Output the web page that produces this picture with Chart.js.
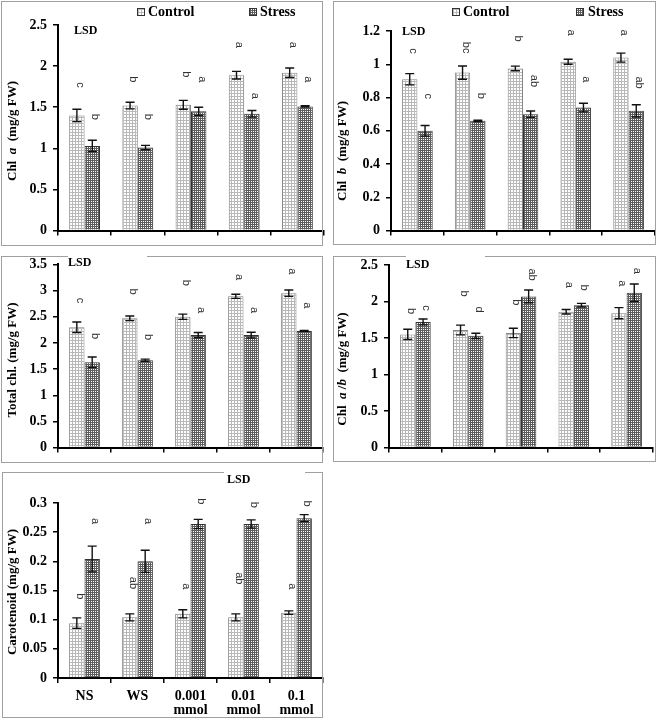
<!DOCTYPE html>
<html><head><meta charset="utf-8">
<script src="https://cdn.jsdelivr.net/npm/chart.js@4/dist/chart.umd.min.js"></script>
<style>
html,body{margin:0;padding:0;background:#fff;}
body{width:658px;height:722px;position:relative;overflow:hidden;}
canvas{position:absolute;}
.ln{position:absolute;background:#a0a0a0;}
</style></head><body>
<canvas id="c1"></canvas><canvas id="c2"></canvas><canvas id="c3"></canvas><canvas id="c4"></canvas><canvas id="c5"></canvas>
<script>
// ---------- DATA ----------
const categories = ['NS', 'WS', ['0.001', 'mmol'], ['0.01', 'mmol'], ['0.1', 'mmol']];
const seriesNames = ['Control', 'Stress'];

const chlaControl = [1.40, 1.52, 1.53, 1.89, 1.92];
const chlaControlErr = [0.075, 0.04, 0.054, 0.046, 0.058];
const chlaStress = [1.03, 1.01, 1.45, 1.42, 1.51];
const chlaStressErr = [0.068, 0.026, 0.05, 0.04, 0.008];
const chlaControlLetters = ['c', 'b', 'b', 'a', 'a'];
const chlaControlLetterAt = [1.77, 1.84, 1.90, 2.26, 2.26];
const chlaStressLetters = ['b', 'b', 'a', 'a', 'a'];
const chlaStressLetterAt = [1.385, 1.385, 1.84, 1.64, 1.84];
const chlaTicks = [0, 0.5, 1, 1.5, 2, 2.5];

const chlbControl = [0.91, 0.95, 0.975, 1.015, 1.04];
const chlbControlErr = [0.034, 0.04, 0.014, 0.015, 0.027];
const chlbStress = [0.60, 0.66, 0.70, 0.74, 0.72];
const chlbStressErr = [0.032, 0.004, 0.019, 0.026, 0.037];
const chlbControlLetters = ['c', 'bc', 'b', 'a', 'a'];
const chlbControlLetterAt = [1.08, 1.10, 1.155, 1.19, 1.19];
const chlbStressLetters = ['c', 'b', 'ab', 'a', 'ab'];
const chlbStressLetterAt = [0.807, 0.81, 0.90, 0.91, 0.89];
const chlbTicks = [0, 0.2, 0.4, 0.6, 0.8, 1, 1.2];

const totalControl = [2.30, 2.47, 2.50, 2.89, 2.95];
const totalControlErr = [0.1, 0.045, 0.05, 0.04, 0.06];
const totalStress = [1.63, 1.67, 2.15, 2.15, 2.23];
const totalStressErr = [0.1, 0.02, 0.05, 0.055, 0.01];
const totalControlLetters = ['c', 'b', 'b', 'a', 'a'];
const totalControlLetterAt = [2.81, 2.98, 3.15, 3.26, 3.37];
const totalStressLetters = ['b', 'b', 'a', 'a', 'a'];
const totalStressLetterAt = [2.13, 2.11, 2.63, 2.63, 2.72];
const totalTicks = [0, 0.5, 1, 1.5, 2, 2.5, 3, 3.5];

const ratioControl = [1.55, 1.61, 1.57, 1.86, 1.84];
const ratioControlErr = [0.07, 0.067, 0.065, 0.03, 0.076];
const ratioStress = [1.72, 1.53, 2.07, 1.95, 2.12];
const ratioStressErr = [0.04, 0.036, 0.087, 0.025, 0.12];
const ratioControlLetters = ['b', 'b', 'b', 'a', 'a'];
const ratioControlLetterAt = [1.87, 2.11, 1.99, 2.23, 2.25];
const ratioStressLetters = ['c', 'd', 'ab', 'b', 'a'];
const ratioStressLetterAt = [1.91, 1.89, 2.37, 2.19, 2.42];
const ratioTicks = [0, 0.5, 1, 1.5, 2, 2.5];

const caroControl = [0.094, 0.104, 0.11, 0.104, 0.112];
const caroControlErr = [0.009, 0.006, 0.007, 0.006, 0.003];
const caroStress = [0.204, 0.20, 0.264, 0.264, 0.274];
const caroStressErr = [0.022, 0.019, 0.008, 0.007, 0.006];
const caroControlLetters = ['b', 'ab', 'a', 'ab', 'a'];
const caroControlLetterAt = [0.14, 0.163, 0.157, 0.171, 0.157];
const caroStressLetters = ['a', 'a', 'b', 'b', 'b'];
const caroStressLetterAt = [0.269, 0.269, 0.303, 0.297, 0.299];
const caroTicks = [0, 0.05, 0.1, 0.15, 0.2, 0.25, 0.3];

// ---------- FRAMES ----------
function hline(x1, x2, y) { const d = document.createElement('div'); d.className = 'ln'; d.style.cssText = `left:${x1}px;top:${y}px;width:${x2 - x1 + 1}px;height:1px`; document.body.appendChild(d); }
function vline(x, y1, y2) { const d = document.createElement('div'); d.className = 'ln'; d.style.cssText = `left:${x}px;top:${y1}px;width:1px;height:${y2 - y1 + 1}px`; document.body.appendChild(d); }

// ---------- PATTERNS ----------
function makePattern(size, lineColor) {
  const c = document.createElement('canvas'); c.width = c.height = size;
  const g = c.getContext('2d');
  g.fillStyle = '#fff'; g.fillRect(0, 0, size, size);
  g.fillStyle = lineColor; g.fillRect(0, 0, size, 1); g.fillRect(0, 0, 1, size);
  return g.createPattern(c, 'repeat');
}
const controlFill = makePattern(3, '#b8b8b8');
const stressFill = makePattern(2, '#5c5c5c');
const controlBorder = '#858585';
const stressBorder = '#333';

const FONT = '"Liberation Serif", "Times New Roman", serif';

function fmt(v) { return String(Number(v.toFixed(3))); }

const annotate = {
  id: 'annotate',
  afterDatasetsDraw(chart) {
    const o = chart.options.plugins.annotate;
    const ctx = chart.ctx, ys = chart.scales.y;
    ctx.save();
    // error bars
    [o.errs[0], o.errs[1]].forEach((errs, di) => {
      const meta = chart.getDatasetMeta(di);
      const vals = chart.data.datasets[di].data;
      meta.data.forEach((bar, i) => {
        const x = bar.x;
        const yt = ys.getPixelForValue(vals[i] + errs[i]);
        const yb = ys.getPixelForValue(vals[i] - errs[i]);
        ctx.strokeStyle = '#111'; ctx.lineWidth = 1.4;
        ctx.beginPath();
        ctx.moveTo(x, yt); ctx.lineTo(x, yb);
        ctx.moveTo(x - 4.5, yt); ctx.lineTo(x + 4.5, yt);
        ctx.moveTo(x - 4.5, yb); ctx.lineTo(x + 4.5, yb);
        ctx.stroke();
      });
    });
    // significance letters (rotated)
    ctx.fillStyle = '#333';
    ctx.font = '11px "Liberation Sans", Arial, sans-serif';
    ctx.textAlign = 'center'; ctx.textBaseline = 'middle';
    [0, 1].forEach(di => {
      const meta = chart.getDatasetMeta(di);
      meta.data.forEach((bar, i) => {
        const y = ys.getPixelForValue(o.letterAt[di][i]);
        ctx.save(); ctx.translate(bar.x + 3, y); ctx.rotate(Math.PI / 2);
        ctx.fillText(o.letters[di][i], 0, 0); ctx.restore();
      });
    });
    // LSD
    ctx.fillStyle = '#000'; ctx.font = 'bold 12px ' + FONT;
    ctx.textAlign = 'left'; ctx.textBaseline = 'middle';
    ctx.fillText('LSD', o.lsd[0], o.lsd[1]);
    // y title with italic parts
    ctx.save(); ctx.translate(o.titlePos[0], o.titlePos[1]); ctx.rotate(-Math.PI / 2);
    let total = 0;
    o.title.forEach(s => { ctx.font = (s[1] ? 'italic ' : '') + 'bold 13px ' + FONT; total += ctx.measureText(s[0]).width; });
    let x = -total / 2;
    ctx.fillStyle = '#000'; ctx.textAlign = 'left';
    o.title.forEach(s => { ctx.font = (s[1] ? 'italic ' : '') + 'bold 13px ' + FONT; ctx.fillText(s[0], x, 0); x += ctx.measureText(s[0]).width; });
    ctx.restore();
    // legend
    if (o.legend) {
      ctx.font = 'bold 14px ' + FONT; ctx.textBaseline = 'middle'; ctx.textAlign = 'left';
      o.legend.forEach((L, k) => {
        ctx.fillStyle = k === 0 ? controlFill : stressFill;
        ctx.fillRect(L[0], L[2] - 4, 8, 8);
        ctx.strokeStyle = '#333'; ctx.lineWidth = 1;
        ctx.strokeRect(L[0] + 0.5, L[2] - 3.5, 7, 7);
        ctx.fillStyle = '#000';
        ctx.fillText(seriesNames[k], L[1], L[2]);
      });
    }
    ctx.restore();
  }
};

function makeChart(cfg) {
  const cv = document.getElementById(cfg.id);
  cv.width = cfg.w; cv.height = cfg.h;
  cv.style.left = cfg.left + 'px'; cv.style.top = cfg.top + 'px';
  cv.style.width = cfg.w + 'px'; cv.style.height = cfg.h + 'px';
  const ticks = cfg.ticks;
  return new Chart(cv, {
    type: 'bar',
    data: {
      labels: categories,
      datasets: [
        { label: seriesNames[0], data: cfg.ctrl, backgroundColor: controlFill, borderColor: controlBorder, borderWidth: 1, categoryPercentage: 0.58, barPercentage: 1.0 },
        { label: seriesNames[1], data: cfg.stress, backgroundColor: stressFill, borderColor: stressBorder, borderWidth: 1, categoryPercentage: 0.58, barPercentage: 1.0 }
      ]
    },
    options: {
      responsive: false, animation: false, devicePixelRatio: 1,
      layout: { padding: { top: cfg.padTop, right: cfg.padRight, left: 0, bottom: 0 } },
      plugins: {
        legend: { display: false }, tooltip: { enabled: false },
        annotate: { errs: [cfg.ctrlErr, cfg.stressErr], letters: [cfg.ctrlLetters, cfg.stressLetters], letterAt: [cfg.ctrlAt, cfg.stressAt], lsd: cfg.lsd, title: cfg.title, titlePos: cfg.titlePos, legend: cfg.legend }
      },
      scales: {
        x: {
          offset: true,
          grid: { offset: true, drawOnChartArea: false, drawTicks: true, tickLength: 5, color: '#000', lineWidth: 1.5 },
          border: { display: true, color: '#000', width: 2 },
          ticks: { display: cfg.showX, color: '#000', padding: 7, maxRotation: 0, autoSkip: false, font: { family: FONT, weight: 'bold', size: 14, lineHeight: 0.95 } },
          afterFit: s => { s.height = cfg.xH; }
        },
        y: {
          min: ticks[0], max: ticks[ticks.length - 1],
          afterBuildTicks: s => { s.ticks = ticks.map(v => ({ value: v })); },
          grid: { drawOnChartArea: false, drawTicks: true, tickLength: 5, color: '#000', lineWidth: 1.5 },
          border: { display: true, color: '#000', width: 2 },
          ticks: { color: '#000', padding: 6, callback: v => fmt(v), font: { family: FONT, weight: 'bold', size: 14 } },
          afterFit: s => { s.width = cfg.yW; }
        }
      }
    },
    plugins: [annotate]
  });
}

makeChart({ id: 'c1', left: 0, top: 0, w: 330, h: 245, yW: 58, padTop: 25, padRight: 6, xH: 11, showX: false,
  ticks: chlaTicks, ctrl: chlaControl, stress: chlaStress, ctrlErr: chlaControlErr, stressErr: chlaStressErr,
  ctrlLetters: chlaControlLetters, stressLetters: chlaStressLetters, ctrlAt: chlaControlLetterAt, stressAt: chlaStressLetterAt,
  lsd: [74, 31], titlePos: [13, 131], title: [['Chl  ', false], ['a', true], ['  (mg/g FW)', false]],
  legend: [[137, 148, 12], [249, 260, 12]] });

makeChart({ id: 'c2', left: 330, top: 0, w: 328, h: 245, yW: 61, padTop: 31, padRight: 3, xH: 11, showX: false,
  ticks: chlbTicks, ctrl: chlbControl, stress: chlbStress, ctrlErr: chlbControlErr, stressErr: chlbStressErr,
  ctrlLetters: chlbControlLetters, stressLetters: chlbStressLetters, ctrlAt: chlbControlLetterAt, stressAt: chlbStressLetterAt,
  lsd: [72, 32], titlePos: [13, 151], title: [['Chl  ', false], ['b', true], ['  (mg/g FW)', false]],
  legend: [[122, 133, 12], [246, 258, 12]] });

makeChart({ id: 'c3', left: 0, top: 250, w: 330, h: 212, yW: 58, padTop: 14, padRight: 7, xH: 10, showX: false,
  ticks: totalTicks, ctrl: totalControl, stress: totalStress, ctrlErr: totalControlErr, stressErr: totalStressErr,
  ctrlLetters: totalControlLetters, stressLetters: totalStressLetters, ctrlAt: totalControlLetterAt, stressAt: totalStressLetterAt,
  lsd: [68, 13], titlePos: [13, 110], title: [['Total chl. (mg/g FW)', false]] });

makeChart({ id: 'c4', left: 330, top: 250, w: 328, h: 212, yW: 59, padTop: 15, padRight: 5, xH: 12, showX: false,
  ticks: ratioTicks, ctrl: ratioControl, stress: ratioStress, ctrlErr: ratioControlErr, stressErr: ratioStressErr,
  ctrlLetters: ratioControlLetters, stressLetters: ratioStressLetters, ctrlAt: ratioControlLetterAt, stressAt: ratioStressLetterAt,
  lsd: [76, 15], titlePos: [13, 119], title: [['Chl  ', false], ['a', true], [' /', false], ['b', true], ['  (mg/g FW)', false]] });

makeChart({ id: 'c5', left: 0, top: 470, w: 330, h: 252, yW: 58, padTop: 33, padRight: 7, xH: 44, showX: true,
  ticks: caroTicks, ctrl: caroControl, stress: caroStress, ctrlErr: caroControlErr, stressErr: caroStressErr,
  ctrlLetters: caroControlLetters, stressLetters: caroStressLetters, ctrlAt: caroControlLetterAt, stressAt: caroStressLetterAt,
  lsd: [227, 10], titlePos: [13, 122], title: [['Carotenoid (mg/g FW)', false]] });

// panel frames
hline(1, 322, 1); hline(1, 322, 245); vline(1, 1, 245); vline(322, 1, 245);
hline(333, 655, 1); hline(333, 655, 244); vline(333, 1, 244); vline(655, 1, 244);
hline(1, 67, 256); hline(147, 322, 256); hline(1, 322, 462); vline(1, 256, 462); vline(322, 256, 462);
hline(333, 405, 256); hline(485, 655, 256); hline(333, 655, 461); vline(333, 256, 461); vline(655, 256, 461);
hline(2, 223, 472); hline(305, 322, 472); hline(2, 322, 717); vline(2, 472, 717); vline(322, 472, 717);
</script>
</body></html>
